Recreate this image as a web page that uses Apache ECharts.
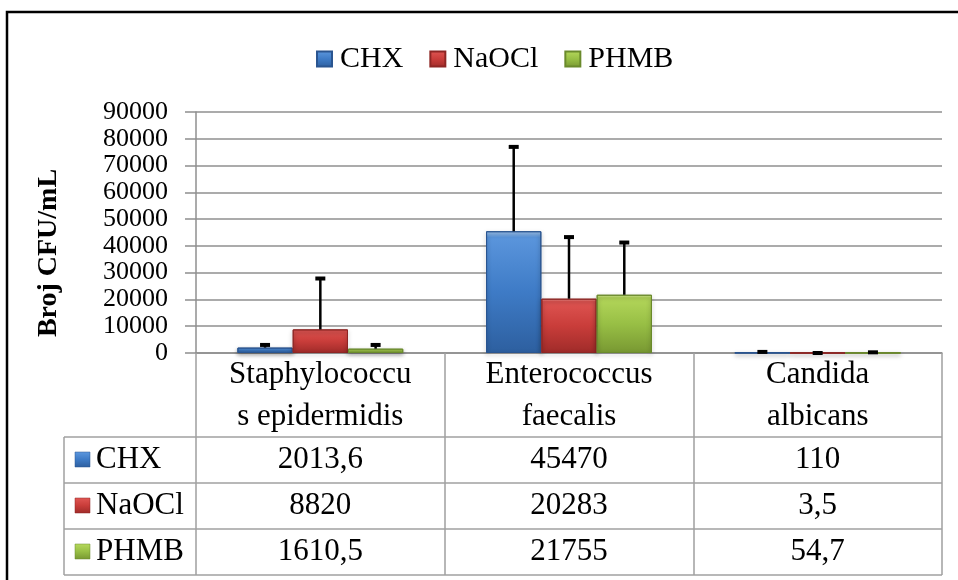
<!DOCTYPE html>
<html><head><meta charset="utf-8">
<script src="https://cdn.jsdelivr.net/npm/echarts@6/dist/echarts.min.js"></script>
<style>html,body{margin:0;padding:0;background:#fff}#c{width:958px;height:580px}</style>
</head><body><div id="c"></div>
<script>
// ---- data ----
const categories = ['Staphylococcu\ns epidermidis', 'Enterococcus\nfaecalis', 'Candida\nalbicans'];
const seriesNames = ['CHX', 'NaOCl', 'PHMB'];
const chxValues = [2013.6, 45470, 110];
const naoclValues = [8820, 20283, 3.5];
const phmbValues = [1610.5, 21755, 54.7];
const chxError = [1000, 31500, 300];
const naoclError = [19000, 23000, 5];
const phmbError = [1400, 19500, 200];
const yMin = 0, yMax = 90000, yInterval = 10000;
const yTitle = 'Broj CFU/mL';

// ---- styles ----
const FONT = 'Liberation Serif';
const palettes = [
  ['#a4c9f2', '#5a95dc', '#3e7bc6', '#2d5f9f', '#2a5590'],
  ['#f59d9a', '#de5451', '#c93d3a', '#9f2b29', '#8e2624'],
  ['#def3a2', '#b3d65a', '#98bf45', '#789832', '#6a8a2c']
];
function grad(p) {
  return new echarts.graphic.LinearGradient(0, 0, 0, 1, [
    {offset: 0, color: p[0]}, {offset: 0.05, color: p[1]},
    {offset: 0.5, color: p[2]}, {offset: 1, color: p[3]}
  ]);
}
const values = [chxValues, naoclValues, phmbValues];
const errors = [chxError, naoclError, phmbError];
const GAP = 0.333;

const chart = echarts.init(document.getElementById('c'), null, {renderer: 'canvas'});

function errRender(si) {
  return function (params, api) {
    const ci = api.value(0), v = api.value(1), e = api.value(2);
    const band = api.size([1, 0])[0];
    const bw = band * (1 - GAP) / 3;
    const base = api.coord([ci, v]);
    const top = api.coord([ci, v + e]);
    const x = base[0] + (si - 1) * bw;
    return {type: 'group', children: [
      {type: 'line', shape: {x1: x, y1: base[1], x2: x, y2: top[1]}, style: {stroke: '#000', lineWidth: 2.5}},
      {type: 'line', shape: {x1: x - 5, y1: top[1], x2: x + 5, y2: top[1]}, style: {stroke: '#000', lineWidth: 4}}
    ]};
  };
}

const series = [];
seriesNames.forEach((n, si) => {
  series.push({
    name: n, type: 'bar', data: values[si], barGap: '0%', barCategoryGap: '33.3%',
    itemStyle: {color: grad(palettes[si]), borderColor: palettes[si][4], borderWidth: 1,
      shadowColor: 'rgba(0,0,0,0.35)', shadowBlur: 4, shadowOffsetY: 2},
    emphasis: {disabled: true}, z: 2
  });
});
seriesNames.forEach((n, si) => {
  series.push({
    name: n + ' err', type: 'custom', renderItem: errRender(si), z: 5,
    data: values[si].map((v, i) => [i, v, errors[si][i]]),
    encode: {x: 0, y: 1}, silent: true
  });
});

chart.setOption({
  animation: false,
  textStyle: {fontFamily: FONT},
  legend: {
    data: seriesNames, left: 311, top: 39, icon: 'rect', itemWidth: 15, itemHeight: 15, itemGap: 26,
    textStyle: {fontFamily: FONT, fontSize: 30, color: '#000', padding: [0, 0, 0, 3]}
  },
  grid: {left: 196, right: 16, top: 112, bottom: 227, containLabel: false},
  xAxis: {
    type: 'category', data: categories,
    axisLine: {show: true, lineStyle: {color: '#8f8f8f', width: 1.5}},
    axisTick: {show: true, length: 222, lineStyle: {color: '#a0a0a0', width: 1.5}},
    axisLabel: {interval: 0, fontFamily: FONT, fontSize: 31, lineHeight: 42, color: '#000', margin: 1}
  },
  yAxis: {
    type: 'value', min: yMin, max: yMax, interval: yInterval,
    axisLine: {show: true, lineStyle: {color: '#8f8f8f', width: 1.5}},
    axisTick: {show: true, inside: false, length: 11, lineStyle: {color: '#8f8f8f', width: 1.5}},
    splitLine: {show: true, lineStyle: {color: '#8f8f8f', width: 1.5}},
    axisLabel: {fontFamily: FONT, fontSize: 26, color: '#000', margin: 28, formatter: v => String(v)}
  },
  series: series
});

// ---- data table built from the arrays, aligned with the category axis ----
const xs = categories.map((c, i) => chart.convertToPixel({xAxisIndex: 0}, i));
const y0px = chart.convertToPixel({yAxisIndex: 0}, yMin);
const band = xs.length > 1 ? xs[1] - xs[0] : 249;
const rightEdge = xs[xs.length - 1] + band / 2;
const tableTop = y0px + 84, rowH = 46, labelLeft = 64;
const g = [];
g.push({type: 'rect', shape: {x: 7, y: 12, width: 1000, height: 620}, style: {fill: 'none', stroke: '#000', lineWidth: 2.5}, silent: true});
for (let r = 0; r <= seriesNames.length; r++) {
  const y = tableTop + r * rowH;
  g.push({type: 'line', shape: {x1: labelLeft, y1: y, x2: rightEdge, y2: y}, style: {stroke: '#a0a0a0', lineWidth: 1.5}});
}
g.push({type: 'line', shape: {x1: labelLeft, y1: tableTop, x2: labelLeft, y2: tableTop + rowH * 3}, style: {stroke: '#a0a0a0', lineWidth: 1.5}});
seriesNames.forEach((n, si) => {
  const cy = tableTop + si * rowH + rowH / 2;
  g.push({type: 'rect', shape: {x: 75, y: cy - 8, width: 15, height: 15},
    style: {fill: grad(palettes[si]), stroke: palettes[si][4], lineWidth: 0.5}});
  g.push({type: 'text', x: 96, y: cy, style: {text: n, font: '31px "' + FONT + '"', fill: '#000', verticalAlign: 'middle', align: 'left'}});
  values[si].forEach((v, ci) => {
    g.push({type: 'text', x: xs[ci], y: cy, style: {text: String(v).replace('.', ','), font: '31px "' + FONT + '"', fill: '#000', verticalAlign: 'middle', align: 'center'}});
  });
});
g.push({type: 'text', x: 49, y: 253, rotation: Math.PI / 2,
  style: {text: yTitle, font: 'bold 28px "' + FONT + '"', fill: '#000', align: 'center', verticalAlign: 'middle'}});
chart.setOption({graphic: g});
</script>
</body></html>
